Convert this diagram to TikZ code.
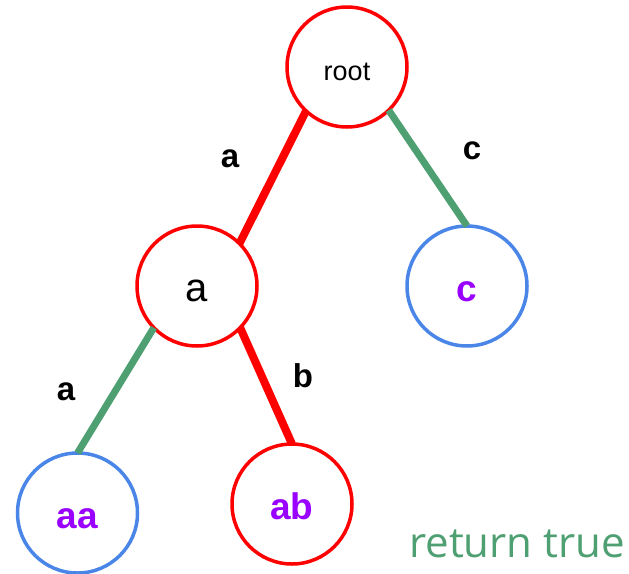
\documentclass[tikz,border=0pt]{standalone}
\usepackage{fontspec}
\setmainfont{Liberation Sans}
\newfontfamily\opensans{Open Sans}
\definecolor{tred}{HTML}{FF0000}
\definecolor{tblue}{HTML}{4A86E8}
\definecolor{tgreen}{HTML}{4EA072}
\definecolor{tpurple}{HTML}{9900FF}
\begin{document}
\begin{tikzpicture}[x=1pt,y=-1pt,
  nodecirc/.style={circle,draw,line width=3.5pt,minimum size=120pt,inner sep=0pt,outer sep=0pt,fill=white,text height=30pt,text depth=0pt},
  rednode/.style={nodecirc,draw=tred},
  bluenode/.style={nodecirc,draw=tblue},
  redlink/.style={draw=tred,line width=8pt},
  greenlink/.style={draw=tgreen,line width=7pt},
  edgelabel/.style={anchor=base,font=\fontsize{33}{33}\selectfont\bfseries},
  purplelabel/.style={text=tpurple,font=\fontsize{37}{37}\selectfont\bfseries}]
\useasboundingbox (0,0) rectangle (629,573);
\node[rednode,font=\fontsize{27}{27}\selectfont,text height=26pt] (root) at (347,67) {root};
\node[rednode,font=\fontsize{40}{40}\selectfont] (a) at (197,286) {a};
\node[bluenode,purplelabel] (c) at (467,286) {c};
\node[bluenode,purplelabel] (aa) at (77.5,513) {aa};
\node[rednode,purplelabel] (ab) at (292,504) {ab};
\draw[redlink] (root.227) -- (a.45);
\draw[greenlink] (root.314) -- (c.90);
\draw[greenlink] (a.224) -- (aa.90);
\draw[redlink] (a.316) -- (ab.90);
\node[edgelabel] (la1) at (230,167) {a};
\node[edgelabel] (lc) at (472,159) {c};
\node[edgelabel] (la2) at (66,400) {a};
\node[edgelabel] (lb) at (303,387) {b};
\node[anchor=base,text=tgreen,font=\opensans\fontsize{42}{42}\selectfont] (ret) at (517,557) {return true};
\end{tikzpicture}
\end{document}
